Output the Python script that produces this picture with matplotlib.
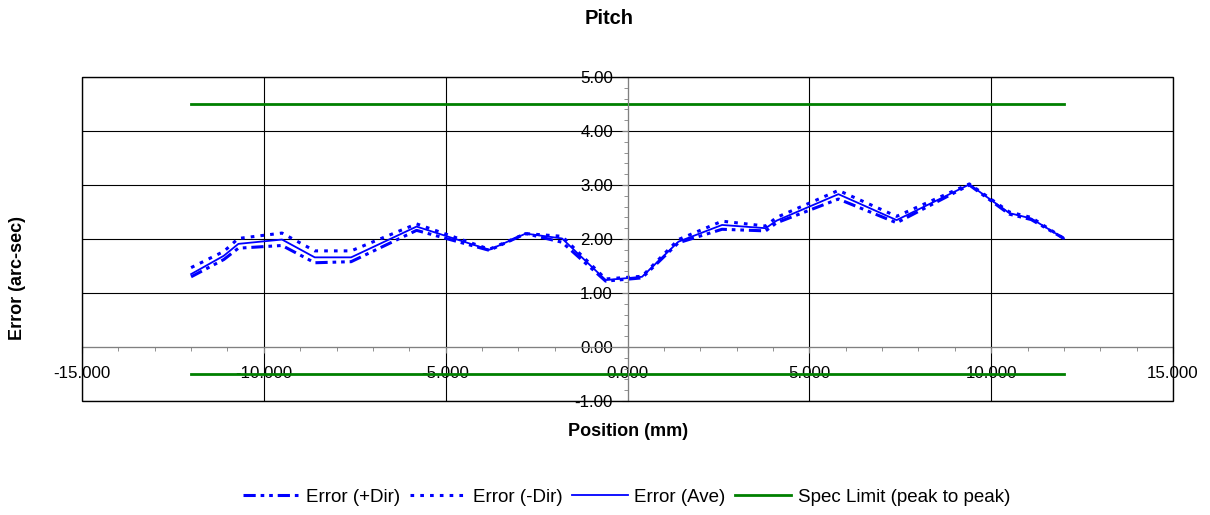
#!/usr/bin/env python3
# -*- coding: utf-8 -*-

import matplotlib
matplotlib.use("Agg")
import matplotlib.pyplot as plt
from matplotlib.patches import Rectangle
from matplotlib.ticker import MultipleLocator, FormatStrFormatter

plt.rcParams['font.family'] = ['Liberation Sans', 'DejaVu Sans']

# Data
position = [-12.0, -11.1, -10.7, -9.5, -8.6, -7.6, -5.8, -3.8, -2.8, -1.8, -0.6,
            0.4, 1.4, 2.6, 3.8, 4.1, 5.8, 7.4, 9.4, 10.5, 11.1, 12.0]
err_plus = [1.30, 1.62, 1.83, 1.88, 1.56, 1.58, 2.16, 1.79, 2.10, 1.94, 1.22,
            1.28, 1.93, 2.18, 2.15, 2.30, 2.74, 2.30, 3.00, 2.46, 2.36, 2.01]
err_minus = [1.47, 1.77, 2.01, 2.11, 1.78, 1.78, 2.28, 1.81, 2.10, 2.05, 1.26,
             1.31, 1.99, 2.33, 2.24, 2.40, 2.90, 2.42, 3.02, 2.50, 2.40, 2.01]
err_ave = [1.35, 1.69, 1.91, 1.99, 1.66, 1.66, 2.23, 1.80, 2.10, 2.01, 1.24,
           1.30, 1.95, 2.26, 2.20, 2.34, 2.83, 2.35, 3.01, 2.48, 2.38, 2.01]
spec_x = [-12.0, 12.0]
spec_upper = [4.5, 4.5]
spec_lower = [-0.5, -0.5]

fig = plt.figure(figsize=(12.1, 5.15), dpi=100)
ax = fig.add_axes([82 / 1210, 1 - 401 / 515, (1173 - 82) / 1210, (401 - 77) / 515])

blue = '#0000FF'
green = '#008000'

l1, = ax.plot(position, err_plus, color=blue, lw=2.2,
              dashes=(4, 1.6, 1.2, 1.6, 1.2, 1.6), label='Error (+Dir)')
l2, = ax.plot(position, err_minus, color=blue, lw=2.2,
              dashes=(1.2, 2.0), label='Error (-Dir)')
l3, = ax.plot(position, err_ave, color=blue, lw=1.3, label='Error (Ave)')
l4, = ax.plot(spec_x, spec_upper, color=green, lw=2.0, label='Spec Limit (peak to peak)')
ax.plot(spec_x, spec_lower, color=green, lw=2.0)

ax.set_xlim(-15, 15)
ax.set_ylim(-1, 5)

# centred axes like the original
ax.spines['top'].set_visible(False)
ax.spines['right'].set_visible(False)
ax.spines['left'].set_position(('data', 0))
ax.spines['bottom'].set_position(('data', 0))
ax.spines['left'].set_color('#808080')
ax.spines['bottom'].set_color('#808080')
ax.add_patch(Rectangle((0, 0), 1, 1, transform=ax.transAxes, fill=False,
                       ec='black', lw=1, clip_on=False, zorder=3))

ax.xaxis.set_major_locator(MultipleLocator(5))
ax.xaxis.set_minor_locator(MultipleLocator(1))
ax.yaxis.set_major_locator(MultipleLocator(1))
ax.yaxis.set_minor_locator(MultipleLocator(0.2))
ax.xaxis.set_major_formatter(FormatStrFormatter('%.3f'))
ax.yaxis.set_major_formatter(FormatStrFormatter('%.2f'))

ax.tick_params(axis='x', which='major', length=4, color='#808080', pad=10, labelsize=12.2)
ax.tick_params(axis='x', which='minor', length=3, color='#808080')
ax.tick_params(axis='y', which='major', length=4, color='#808080', pad=6.5, labelsize=12.2)
ax.tick_params(axis='y', which='minor', length=3, color='#808080')

ax.grid(True, which='major', color='black', lw=0.8)
ax.set_axisbelow(True)

fig.text(0.503, 1 - 18 / 515, 'Pitch', ha='center', va='center', fontsize=14.5, fontweight='bold')
fig.text(628 / 1210, 1 - 432 / 515, 'Position (mm)', ha='center', va='center',
         fontsize=13, fontweight='bold')
fig.text(18 / 1210, 1 - 278 / 515, 'Error (arc-sec)', ha='center', va='center',
         rotation=90, fontsize=13, fontweight='bold')

fig.legend(handles=[l1, l2, l3, l4], loc='center', bbox_to_anchor=(0.518, 1 - 497 / 515),
           ncol=4, frameon=False, fontsize=13.5, handlelength=3.0,
           handletextpad=0.35, columnspacing=0.5)

fig.savefig('out.png', dpi=100)
